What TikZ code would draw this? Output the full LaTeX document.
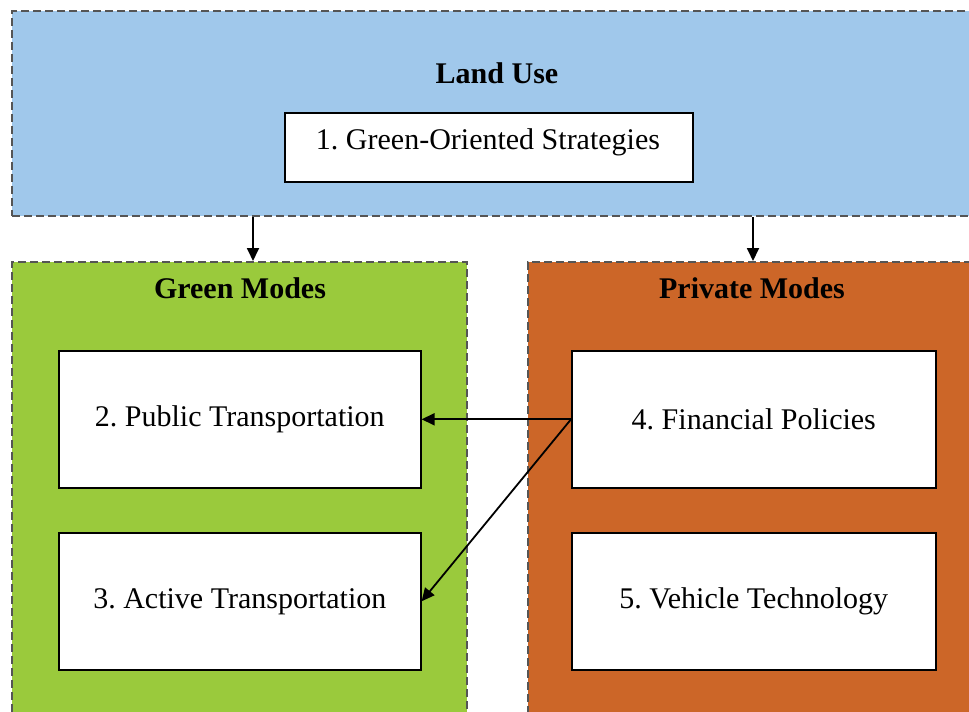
\documentclass[tikz,border=0pt]{standalone}
\usepackage{fontspec}
\setmainfont{Liberation Serif}
\usetikzlibrary{arrows.meta,shadows}
\definecolor{luBlue}{RGB}{160,200,235}
\definecolor{gmGreen}{RGB}{154,202,60}
\definecolor{pmOrange}{RGB}{204,102,40}
\definecolor{dashGray}{RGB}{85,85,85}
\tikzset{
  group/.style={draw=dashGray, line width=1.1pt, dash pattern=on 4pt off 2pt, rectangle, anchor=north west, inner sep=0pt},
  item/.style={draw=black, line width=0.8pt, fill=white, rectangle, anchor=north west, inner sep=0pt,
    font=\fontsize{15}{18}\selectfont, drop shadow={shadow xshift=0.8pt, shadow yshift=-0.8pt, opacity=0.6, fill=black}},
  title/.style={font=\fontsize{15}{18}\selectfont\bfseries},
  arr/.style={-{Triangle[length=6.5pt,width=6pt]}, line width=0.9pt, black},
}
\begin{document}
\frenchspacing
\begin{tikzpicture}[x=0.5pt,y=-0.5pt]
\useasboundingbox (0,0) rectangle (969,712);
\clip (0,0) rectangle (969,712);
\fill[white] (0,0) rectangle (969,712);
% groups
\node[group, fill=luBlue, minimum width=487pt, minimum height=102.5pt] (lu) at (11,10) {};
\node[group, fill=gmGreen, minimum width=227.5pt, minimum height=230pt] (gm) at (11,261) {};
\node[group, fill=pmOrange, minimum width=230pt, minimum height=230pt] (pm) at (527,261) {};
% titles
\node[title] (lut) at (497,73) {Land Use};
\node[title] (gmt) at (240,288) {Green Modes};
\node[title] (pmt) at (752,288) {Private Modes};
% items
\node[item, minimum width=204pt, minimum height=34.5pt] (gos) at (284,112) {};
\node (gost) at (488,142) {\fontsize{15}{18}\selectfont 1. Green-Oriented Strategies};
\node[item, minimum width=181pt, minimum height=68.5pt] (pt) at (58,350) {2. Public Transportation};
\node[item, minimum width=181pt, minimum height=68.5pt] (at) at (58,532) {3. Active Transportation};
\node[item, minimum width=182pt, minimum height=68.5pt] (fp) at (571,350) {4. Financial Policies};
\node[item, minimum width=182pt, minimum height=68.5pt] (vt) at (571,532) {5. Vehicle Technology};
% connectors
\coordinate (xa) at (253,0);
\coordinate (xb) at (753,0);
\draw[arr] (lu.south -| xa) -- (gm.north -| xa);
\draw[arr] (lu.south -| xb) -- (pm.north -| xb);
\draw[arr] (fp.west) -- (pt.east);
\draw[arr] (fp.west) -- (at.east);
\end{tikzpicture}
\end{document}
